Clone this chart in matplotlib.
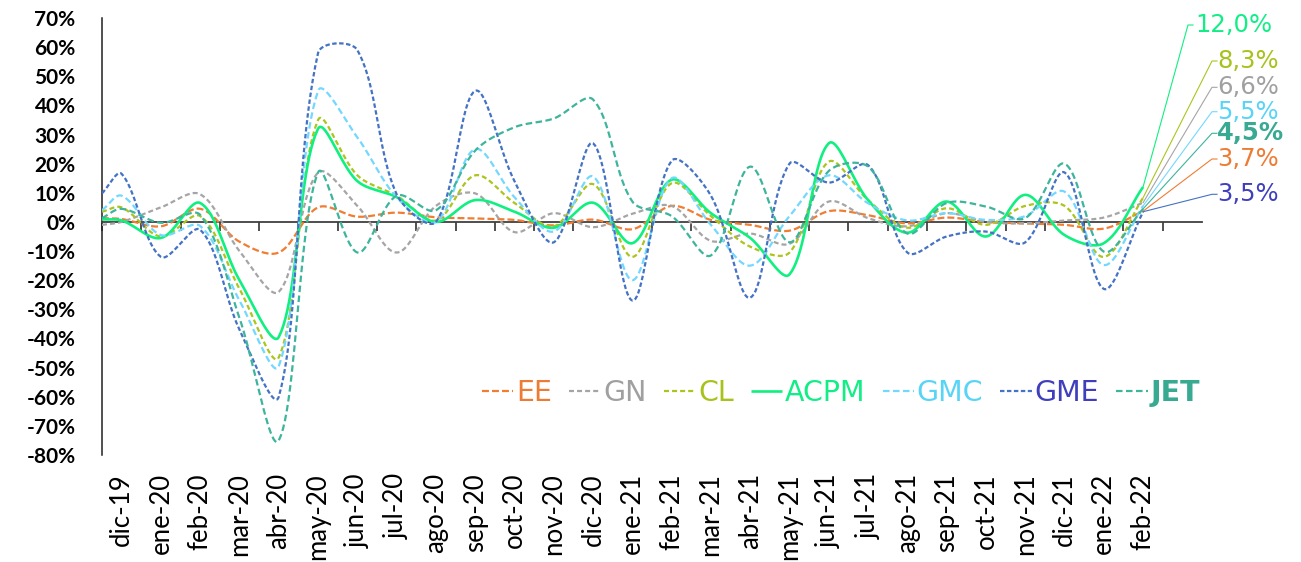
import numpy as np
import matplotlib
matplotlib.use('Agg')
import matplotlib.pyplot as plt
import matplotlib.transforms as mtransforms

# ---------------- data ----------------
categories = ['dic-19', 'ene-20', 'feb-20', 'mar-20', 'abr-20', 'may-20', 'jun-20',
              'jul-20', 'ago-20', 'sep-20', 'oct-20', 'nov-20', 'dic-20', 'ene-21',
              'feb-21', 'mar-21', 'abr-21', 'may-21', 'jun-21', 'jul-21', 'ago-21',
              'sep-21', 'oct-21', 'nov-21', 'dic-21', 'ene-22', 'feb-22']

EE = [1.0, -1.5, 4.5, -6.8, -10.5, 5.0, 1.8, 3.2, 1.6, 1.2, 0.7, -1.2, 0.8, -2.5,
      5.5, 0.7, -1.0, -3.0, 3.7, 2.3, -0.5, 1.5, 0.0, -0.5, -1.0, -2.3, 3.7]
GN = [0.0, 5.0, 9.5, -10.0, -24.0, 17.0, 5.5, -10.5, 5.5, 9.8, -3.5, 3.0, -1.8, 2.8,
      5.5, -6.5, -4.0, -7.5, 7.0, 1.3, -1.5, 3.0, 0.0, -0.5, 0.5, 1.5, 6.6]
CL = [5.0, -5.0, 2.0, -23.0, -46.5, 35.0, 16.0, 9.0, 0.5, 16.0, 6.5, -1.5, 13.0, -12.0,
      13.3, 2.0, -8.5, -10.5, 20.7, 7.5, -2.0, 4.7, -1.0, 5.5, 5.5, -12.0, 8.3]
ACPM = [0.5, -5.5, 6.5, -20.0, -39.5, 32.0, 14.0, 8.5, 0.0, 7.5, 3.5, -2.0, 6.6, -7.3,
        14.5, 3.0, -5.5, -18.0, 27.0, 7.5, -3.7, 7.0, -5.0, 9.3, -4.5, -7.3, 12.0]
GMC = [9.0, -4.5, -1.4, -27.0, -49.5, 45.0, 29.0, 8.5, 0.0, 25.0, 8.5, -3.3, 15.6, -20.0,
       15.0, -1.0, -15.0, 2.0, 16.0, 6.4, 0.5, 3.0, 0.7, 2.0, 10.4, -14.8, 5.5]
GME = [16.5, -12.0, -2.7, -37.0, -60.0, 58.0, 59.0, 9.5, 0.0, 45.0, 14.0, -7.0, 27.0, -27.0,
       21.0, 9.0, -26.0, 20.0, 13.5, 19.5, -10.5, -5.0, -3.3, -7.0, 17.0, -23.0, 3.5]
JET = [4.5, -0.3, 2.4, -33.0, -75.0, 17.0, -10.5, 9.0, 4.0, 24.5, 32.5, 35.5, 42.0, 7.0,
       2.0, -11.5, 19.0, -7.0, 17.5, 19.0, -4.0, 6.5, 5.3, 1.3, 20.0, -10.2, 4.5]

# value of each line where it meets the vertical axis (left edge of the first category)
lead_in = {'EE': 1.3, 'GN': -1.0, 'CL': 3.5, 'ACPM': 0.9, 'GMC': 4.0, 'GME': 9.8, 'JET': 1.3}

names = ['EE', 'GN', 'CL', 'ACPM', 'GMC', 'GME', 'JET']
values = {'EE': EE, 'GN': GN, 'CL': CL, 'ACPM': ACPM, 'GMC': GMC, 'GME': GME, 'JET': JET}
end_labels = {'EE': '3,7%', 'GN': '6,6%', 'CL': '8,3%', 'ACPM': '12,0%',
              'GMC': '5,5%', 'GME': '3,5%', 'JET': '4,5%'}

# ---------------- styles ----------------
line_col = {'EE': '#F07D32', 'GN': '#A5A5A5', 'CL': '#ADC41C', 'ACPM': '#10F080',
            'GMC': '#72D8FF', 'GME': '#4472C4', 'JET': '#3DB49C'}
text_col = {'EE': '#EE7B33', 'GN': '#A0A0A0', 'CL': '#A8C21C', 'ACPM': '#12EE86',
            'GMC': '#58D4F7', 'GME': '#3F3FBE', 'JET': '#39AA92'}
dashes = {'EE': (5.0, 2.2), 'GN': (3.6, 2.2), 'CL': (3.6, 2.2), 'ACPM': None,
          'GMC': (4.7, 2.5), 'GME': (3.2, 1.8), 'JET': (4.7, 2.5)}
# label anchor (pixel y) of the end labels on the right
label_py = {'ACPM': 25, 'CL': 61, 'GN': 87.3, 'GMC': 111.7, 'JET': 133.3, 'EE': 159, 'GME': 194.3}

plt.rcParams['lines.scale_dashes'] = False

W, H = 1301, 562
fig = plt.figure(figsize=(W / 100, H / 100), dpi=100)
ax_l, ax_r, ax_t, ax_b = 102, 1202, 18, 455
ax = fig.add_axes([ax_l / W, 1 - ax_b / H, (ax_r - ax_l) / W, (ax_b - ax_t) / H])

ymin, ymax = -80, 70
n = len(categories)
ax.set_xlim(-0.5, n + 0.5)
ax.set_ylim(ymin, ymax)

sx = (ax_r - ax_l) / (n + 1)          # px per category
sy = (ax_b - ax_t) / (ymax - ymin)    # px per percent


def smooth(xs, ys, steps=24):
    P = np.column_stack([np.asarray(xs, float) * sx, np.asarray(ys, float) * sy])
    N = len(P)
    pts = [P[0]]
    for i in range(N - 1):
        p0 = P[i - 1] if i > 0 else P[i]
        p1, p2 = P[i], P[i + 1]
        p3 = P[i + 2] if i + 2 < N else P[i + 1]
        d01 = np.linalg.norm(p1 - p0)
        d12 = np.linalg.norm(p2 - p1)
        d23 = np.linalg.norm(p3 - p2)
        c1 = p1 + (p2 - p0) * (d12 / (d01 + d12)) / 3 if d01 + d12 > 0 else p1
        c2 = p2 - (p3 - p1) * (d12 / (d12 + d23)) / 3 if d12 + d23 > 0 else p2
        t = np.linspace(0, 1, steps)[1:, None]
        b = ((1 - t) ** 3) * p1 + 3 * ((1 - t) ** 2) * t * c1 + 3 * (1 - t) * t ** 2 * c2 + t ** 3 * p2
        pts.extend(b)
    pts = np.array(pts)
    return pts[:, 0] / sx, pts[:, 1] / sy


xcat = np.arange(n)
handles = []
for name in names:
    xs = np.concatenate([[-0.5], xcat])
    ys = np.concatenate([[lead_in[name]], values[name]])
    cx, cy = smooth(xs, ys)
    lw = 1.9 if name == 'ACPM' else 1.6
    ln, = ax.plot(cx, cy, color=line_col[name], lw=lw, solid_capstyle='butt',
                  dash_capstyle='butt', label=name, zorder=3)
    if dashes[name] is not None:
        ln.set_dashes(dashes[name])
    handles.append(ln)

# end labels with leader lines
for name in names:
    v = values[name][-1]
    ly = (ax_b - label_py[name]) / sy + ymin
    if name == 'ACPM':
        xe = (1188 - ax_l) / sx - 0.5
        xs2 = (1193 - ax_l) / sx - 0.5
        xt = (1195 - ax_l) / sx - 0.5
    else:
        xe = (1212 - ax_l) / sx - 0.5
        xs2 = (1217 - ax_l) / sx - 0.5
        xt = (1217 - ax_l) / sx - 0.5
    ax.plot([n - 1, xe, xs2], [v, ly, ly], color=line_col[name], lw=0.8,
            clip_on=False, zorder=2)
    ax.text(xt, ly, end_labels[name], color=text_col[name], fontsize=17.5,
            fontweight='bold' if name == 'JET' else 'normal',
            family=['DejaVu Sans'], va='center', ha='left', clip_on=False)

# axes styling
for s in ['top', 'right']:
    ax.spines[s].set_visible(False)
ax.spines['bottom'].set_position(('data', 0))
ax.spines['bottom'].set_color('#404040')
ax.spines['bottom'].set_linewidth(1.3)
ax.spines['left'].set_color('#202020')
ax.spines['left'].set_linewidth(1.1)

ax.set_xticks(np.arange(-0.5, n, 1.0))
ax.set_xticklabels([])
ax.tick_params(axis='x', direction='out', length=6.3, width=1.1, color='#202020')

yt = list(range(ymin, ymax + 1, 10))
ax.set_yticks(yt)
ax.set_yticklabels([f'{v}%' for v in yt], fontweight='bold', fontsize=15,
                   family=['Lato', 'DejaVu Sans'])
ax.tick_params(axis='y', length=0, pad=19)

trans = mtransforms.blended_transform_factory(ax.transData, ax.transAxes)
for i, c in enumerate(categories):
    ax.text(i, -18 / (ax_b - ax_t), c, transform=trans, rotation=90, ha='center', va='top',
            fontsize=18.5, family=['Lato', 'DejaVu Sans'], color='black', clip_on=False)

leg = fig.legend(handles=handles, labels=names, loc='center',
                 bbox_to_anchor=(841 / W, 1 - 393 / H), ncol=7, frameon=False,
                 handlelength=1.1, handletextpad=0.1, columnspacing=0.6,
                 prop={'family': ['DejaVu Sans'], 'size': 20.5})
for t, name in zip(leg.get_texts(), names):
    t.set_color(text_col[name])
    if name == 'JET':
        t.set_fontweight('bold')

fig.savefig('out.png', dpi=100)
